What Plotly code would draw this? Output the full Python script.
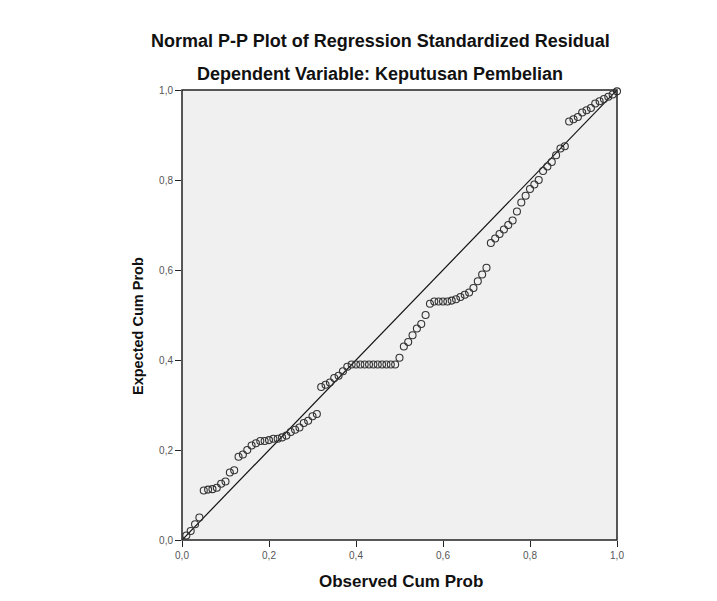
import plotly.graph_objects as go

# Observed cumulative probability (i/100)
observed = [
    0.01, 0.02, 0.03, 0.04, 0.05, 0.06, 0.07, 0.08, 0.09, 0.10,
    0.11, 0.12, 0.13, 0.14, 0.15, 0.16, 0.17, 0.18, 0.19, 0.20,
    0.21, 0.22, 0.23, 0.24, 0.25, 0.26, 0.27, 0.28, 0.29, 0.30,
    0.31, 0.32, 0.33, 0.34, 0.35, 0.36, 0.37, 0.38, 0.39, 0.40,
    0.41, 0.42, 0.43, 0.44, 0.45, 0.46, 0.47, 0.48, 0.49, 0.50,
    0.51, 0.52, 0.53, 0.54, 0.55, 0.56, 0.57, 0.58, 0.59, 0.60,
    0.61, 0.62, 0.63, 0.64, 0.65, 0.66, 0.67, 0.68, 0.69, 0.70,
    0.71, 0.72, 0.73, 0.74, 0.75, 0.76, 0.77, 0.78, 0.79, 0.80,
    0.81, 0.82, 0.83, 0.84, 0.85, 0.86, 0.87, 0.88, 0.89, 0.90,
    0.91, 0.92, 0.93, 0.94, 0.95, 0.96, 0.97, 0.98, 0.99, 1.00,
]

# Expected cumulative probability
expected = [
    0.010, 0.020, 0.035, 0.050, 0.110, 0.112, 0.113, 0.116, 0.125, 0.130,
    0.150, 0.155, 0.185, 0.190, 0.200, 0.210, 0.215, 0.220, 0.220, 0.222,
    0.225, 0.225, 0.228, 0.232, 0.240, 0.245, 0.250, 0.260, 0.265, 0.275,
    0.280, 0.340, 0.345, 0.350, 0.360, 0.365, 0.375, 0.385, 0.390, 0.390,
    0.390, 0.390, 0.390, 0.390, 0.390, 0.390, 0.390, 0.390, 0.390, 0.405,
    0.430, 0.440, 0.455, 0.470, 0.480, 0.500, 0.525, 0.530, 0.530, 0.530,
    0.530, 0.532, 0.535, 0.540, 0.545, 0.550, 0.560, 0.575, 0.590, 0.605,
    0.660, 0.670, 0.680, 0.690, 0.700, 0.710, 0.730, 0.750, 0.765, 0.780,
    0.790, 0.800, 0.820, 0.830, 0.840, 0.855, 0.870, 0.875, 0.930, 0.935,
    0.940, 0.950, 0.955, 0.960, 0.970, 0.975, 0.980, 0.985, 0.990, 0.997,
]

diag_x = [0.0, 1.0]
diag_y = [0.0, 1.0]

tick_vals = [0.0, 0.2, 0.4, 0.6, 0.8, 1.0]
tick_text = ["0,0", "0,2", "0,4", "0,6", "0,8", "1,0"]

title_text = "Normal P-P Plot of Regression Standardized Residual"
subtitle_text = "Dependent Variable: Keputusan Pembelian"
x_title = "Observed Cum Prob"
y_title = "Expected Cum Prob"

FONT = "Liberation Sans, Arial, sans-serif"

# plot area in reference pixels: x 182..617, y 90..540 (page has an 8px body margin)
PX0, PX1, PY0, PY1 = 182, 617, 90, 540


def px(xp):
    return (xp - PX0) / (PX1 - PX0)


def py(yp):
    return (PY1 - yp) / (PY1 - PY0)


fig = go.Figure()
fig.add_trace(go.Scatter(
    x=diag_x, y=diag_y, mode="lines",
    line=dict(color="#111111", width=1.2),
    hoverinfo="skip", showlegend=False,
))
fig.add_trace(go.Scatter(
    x=observed, y=expected, mode="markers",
    marker=dict(symbol="circle-open", size=7, color="#333333",
                line=dict(width=1.1, color="#333333")),
    cliponaxis=False, showlegend=False,
))

axis_common = dict(
    range=[0, 1], tickvals=tick_vals, ticktext=tick_text,
    ticks="outside", ticklen=6, tickwidth=1, tickcolor="#222222",
    showgrid=False, zeroline=False, showline=False,
    tickfont=dict(family=FONT, size=10, color="#555555"),
    fixedrange=True,
)

fig.update_layout(
    width=709, height=593, autosize=False,
    margin=dict(l=PX0 - 8, r=709 - (PX1 - 8), t=PY0 - 8, b=593 - (PY1 - 8)),
    paper_bgcolor="white",
    plot_bgcolor="#f0f0f0",
    xaxis=dict(**axis_common),
    yaxis=dict(**axis_common),
    shapes=[dict(type="rect", xref="paper", yref="paper",
                 x0=0, y0=0, x1=1, y1=1,
                 line=dict(color="#222222", width=1.5))],
    annotations=[
        dict(text="<b>" + title_text + "</b>", xref="paper", yref="paper",
             x=px(380), y=py(41), showarrow=False,
             xanchor="center", yanchor="middle",
             font=dict(family=FONT, size=18, color="#111111")),
        dict(text="<b>" + subtitle_text + "</b>", xref="paper", yref="paper",
             x=px(380), y=py(74), showarrow=False,
             xanchor="center", yanchor="middle",
             font=dict(family=FONT, size=18, color="#111111")),
        dict(text="<b>" + x_title + "</b>", xref="paper", yref="paper",
             x=px(401), y=py(581), showarrow=False,
             xanchor="center", yanchor="middle",
             font=dict(family=FONT, size=17, color="#111111")),
        dict(text="<b>" + y_title + "</b>", xref="paper", yref="paper",
             x=px(138), y=py(326), showarrow=False,
             xanchor="center", yanchor="middle", textangle=-90,
             font=dict(family=FONT, size=14.5, color="#111111")),
    ],
)

fig.write_html("out.html")
